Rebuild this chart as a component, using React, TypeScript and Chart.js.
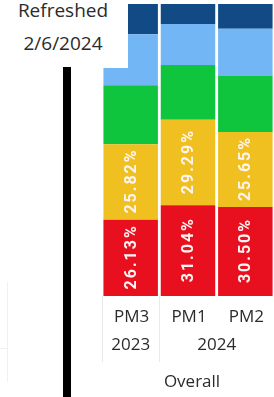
import React, { useEffect, useRef } from "react";
import { Chart, registerables } from "chart.js";

Chart.register(...registerables);

// ---- data ----
const categories = ["PM3", "PM1", "PM2"];
const yearGroups = ["2023", "2024"];
const yearGroupSizes = [1, 2];
const overallLabel = "Overall";
const redValues = [26.13, 31.04, 30.5];
const yellowValues = [25.82, 29.29, 25.65];
const greenValues = [20.2, 18.8, 19.4];
const lightBlueValues = [17.5, 14.0, 16.0];
const darkBlueValues = [10.35, 6.87, 8.45];
const labelledSeries = [0, 1];
const refreshedTitle = "Refreshed";
const refreshedDate = "2/6/2024";

const TEXT_COLOR = "#2b2b2b";

const labelPlugin = {
  id: "segLabels",
  afterDatasetsDraw(chart: any) {
    const ctx = chart.ctx;
    ctx.save();
    ctx.fillStyle = "#fff4f4";
    ctx.font = "bold 16px Roboto";
    (ctx as any).letterSpacing = "2px";
    ctx.textAlign = "center";
    ctx.textBaseline = "middle";
    labelledSeries.forEach((di) => {
      const meta = chart.getDatasetMeta(di);
      const data = chart.data.datasets[di].data as number[];
      meta.data.forEach((el: any, i: number) => {
        const cy = (el.y + el.base) / 2;
        ctx.save();
        ctx.translate(el.x + 1, cy);
        ctx.rotate(-Math.PI / 2);
        ctx.fillText(data[i].toFixed(2) + "%", 1, 0);
        ctx.restore();
      });
    });
    ctx.restore();
  },
};

const axisPlugin = {
  id: "multiAxis",
  afterDraw(chart: any) {
    const ctx = chart.ctx;
    const xs = chart.scales.x;
    const area = chart.chartArea;
    const step = (area.right - area.left) / categories.length;
    ctx.save();
    // separators
    ctx.strokeStyle = "#e9e9e9";
    ctx.lineWidth = 1;
    let idx = 0;
    const seps: number[] = [area.left];
    yearGroupSizes.forEach((n) => {
      idx += n;
      seps.push(area.left + idx * step);
    });
    seps.forEach((sx) => {
      ctx.beginPath();
      ctx.moveTo(Math.round(sx) + 0.5, area.bottom);
      ctx.lineTo(Math.round(sx) + 0.5, area.bottom + 66);
      ctx.stroke();
    });
    ctx.fillStyle = TEXT_COLOR;
    ctx.font = "17px 'Open Sans'";
    ctx.textAlign = "center";
    ctx.textBaseline = "middle";
    categories.forEach((c, i) => {
      ctx.fillText(c, xs.getPixelForValue(i) + 1, area.bottom + 21);
    });
    let start = 0;
    yearGroups.forEach((g, gi) => {
      const n = yearGroupSizes[gi];
      const x0 = xs.getPixelForValue(start);
      const x1 = xs.getPixelForValue(start + n - 1);
      ctx.fillText(g, (x0 + x1) / 2, area.bottom + 49);
      start += n;
    });
    ctx.fillText(overallLabel, (area.left + area.right) / 2 + 4, area.bottom + 86);
    ctx.restore();
  },
};

export default function App() {
  const ref = useRef<HTMLCanvasElement>(null);
  useEffect(() => {
    if (!ref.current) return;
    const ds = (label: string, data: number[], color: string) => ({
      label,
      data,
      backgroundColor: color,
      borderWidth: 0,
      barPercentage: 0.95,
      categoryPercentage: 1,
    });
    const chart = new Chart(ref.current, {
      type: "bar",
      data: {
        labels: categories,
        datasets: [
          ds("Red", redValues, "#e8101f"),
          ds("Yellow", yellowValues, "#f0c020"),
          ds("Green", greenValues, "#0fc53e"),
          ds("Light blue", lightBlueValues, "#72b6f5"),
          ds("Dark blue", darkBlueValues, "#114a85"),
        ],
      },
      options: {
        animation: false,
        responsive: false,
        devicePixelRatio: 1,
        layout: { padding: { left: 102, right: 0, top: 4, bottom: 101 } },
        plugins: { legend: { display: false }, tooltip: { enabled: false } },
        scales: {
          x: { stacked: true, display: false },
          y: { stacked: true, display: false, min: 0, max: 100 },
        },
      },
      plugins: [labelPlugin, axisPlugin],
    });
    return () => chart.destroy();
  }, []);

  return (
    <div
      style={{
        position: "fixed",
        left: 0,
        top: 0,
        width: 274,
        height: 397,
        background: "#ffffff",
        overflow: "hidden",
      }}
    >
      <canvas ref={ref} width={274} height={397} style={{ position: "absolute", left: 0, top: 0 }} />
      <div
        style={{
          position: "absolute",
          left: 0,
          top: 0,
          width: 128,
          height: 68,
          background: "#ffffff",
          fontFamily: "'Open Sans'",
          fontSize: 19,
          color: TEXT_COLOR,
        }}
      >
        <div style={{ position: "absolute", left: 0, width: 126, top: 10, textAlign: "center", lineHeight: "0px" }}>
          {refreshedTitle}
        </div>
        <div style={{ position: "absolute", left: 0, width: 126, top: 43, textAlign: "center", lineHeight: "0px" }}>
          {refreshedDate}
        </div>
      </div>
      <div style={{ position: "absolute", left: 63, top: 67, width: 8, height: 340, background: "#000000" }} />
      <div style={{ position: "absolute", left: 7, top: 282, width: 1, height: 100, background: "#f0f0f0" }} />
      <div style={{ position: "absolute", left: 0, top: 348, width: 8, height: 1, background: "#f0f0f0" }} />
    </div>
  );
}
